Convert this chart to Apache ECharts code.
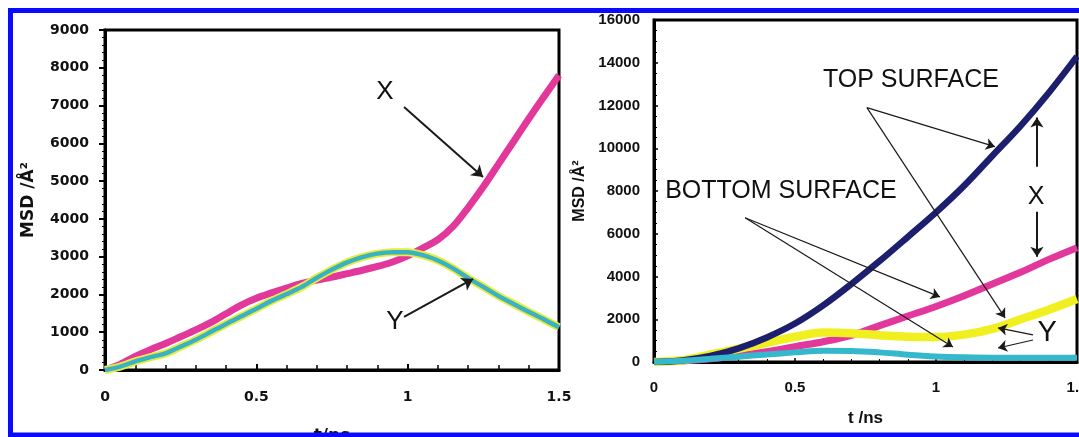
<!DOCTYPE html>
<html><head><meta charset="utf-8">
<script src="https://cdn.jsdelivr.net/npm/echarts/dist/echarts.min.js"></script>
<style>html,body{margin:0;padding:0;background:#fff}#c{width:1079px;height:437px}</style>
</head><body><div id="c"></div>
<script>
// ---- data ----
const tLeft = [0,0.05,0.1,0.15,0.2,0.25,0.3,0.35,0.4,0.45,0.5,0.55,0.6,0.65,0.7,0.75,0.8,0.85,0.9,0.95,1.0,1.05,1.1,1.15,1.2,1.25,1.3,1.35,1.4,1.45,1.5];
const leftX = [0,150,360,540,700,880,1060,1260,1490,1720,1900,2040,2170,2290,2380,2460,2550,2640,2740,2860,3020,3230,3450,3800,4300,4850,5450,6050,6650,7230,7800];
const leftY = [0,90,230,340,440,620,800,1010,1220,1420,1620,1830,2010,2200,2440,2660,2850,2990,3080,3120,3120,3040,2900,2690,2430,2200,1960,1750,1540,1340,1130];

const tRight = [0,0.1,0.2,0.3,0.4,0.5,0.6,0.7,0.8,0.9,1.0,1.1,1.2,1.3,1.4,1.5];
const topX = [0,70,280,640,1150,1800,2650,3650,4720,5850,7000,8250,9650,11050,12600,14300];
const topY = [0,80,350,620,900,1180,1380,1350,1250,1180,1170,1280,1550,2000,2450,2950];
const botX = [0,50,150,300,480,720,950,1250,1700,2150,2600,3100,3650,4200,4800,5350];
const botY = [0,60,150,250,350,450,530,520,450,340,260,220,200,200,200,200];

const leftYTicks = {min:0, max:9000, step:1000};
const rightYTicks = {min:0, max:16000, step:2000};
const xTicks = {min:0, max:1.5, step:0.5};

const pairs = (ts, vs) => ts.map((t, i) => [t, vs[i]]);

const chart = echarts.init(document.getElementById('c'), null, {renderer:'canvas'});

const leftFont = 'DejaVu Sans';
const rightFont = 'Liberation Sans';
const annFont = 'Liberation Sans';
const plain = v => String(v);

function arrow(a, b) { return [{coord:a}, {coord:b}]; }
function txt(c, s, size) {
  return {coord:c, value:s, label:{formatter:s, fontSize:size}};
}
function arrows(list, width, head) {
  return {silent:true, symbol:['none','arrow'], symbolSize:head, label:{show:false},
          lineStyle:{color:'#1a1a1a', width:width, type:'solid'}, emphasis:{disabled:true},
          data:list};
}
function texts(list) {
  return {symbol:'rect', symbolSize:0, silent:true, itemStyle:{color:'transparent'},
          label:{show:true, position:'inside', color:'#111', fontFamily:annFont},
          data:list};
}

const option = {
  animation: false,
  backgroundColor: '#fff',
  grid: [
    {left:105, top:30, width:454, height:340, show:true, borderColor:'#000', borderWidth:3, backgroundColor:'transparent',
     containLabel:false, outerBoundsMode:'none'},
    {left:654, top:20, width:423, height:342, show:true, borderColor:'#000', borderWidth:3, backgroundColor:'transparent',
     containLabel:false, outerBoundsMode:'none'}
  ],
  xAxis: [
    {type:'value', gridIndex:0, min:xTicks.min, max:xTicks.max, interval:xTicks.step,
     name:'t/ns', nameLocation:'middle', nameGap:58,
     nameTextStyle:{fontFamily:leftFont, fontWeight:'bold', fontSize:17, color:'#111'},
     axisLine:{lineStyle:{color:'#000', width:3}},
     axisTick:{show:true, inside:true, length:6, lineStyle:{color:'#000', width:2}},
     minorTick:{show:true, splitNumber:5, length:5, lineStyle:{color:'#000', width:1.5}},
     splitLine:{show:false},
     axisLabel:{fontFamily:leftFont, fontWeight:'bold', fontSize:14, color:'#111', margin:20, formatter:plain}},
    {type:'value', gridIndex:1, min:xTicks.min, max:xTicks.max, interval:xTicks.step,
     name:'t /ns', nameLocation:'middle', nameGap:48,
     nameTextStyle:{fontFamily:rightFont, fontWeight:'bold', fontSize:17, color:'#111'},
     axisLine:{lineStyle:{color:'#000', width:3}},
     axisTick:{show:true, inside:true, length:4, lineStyle:{color:'#000', width:1.5}},
     minorTick:{show:true, splitNumber:5, length:3, lineStyle:{color:'#000', width:1}},
     splitLine:{show:false},
     axisLabel:{fontFamily:rightFont, fontWeight:'bold', fontSize:15, color:'#111', margin:18, formatter:plain}}
  ],
  yAxis: [
    {type:'value', gridIndex:0, min:leftYTicks.min, max:leftYTicks.max, interval:leftYTicks.step,
     name:'MSD /Å²', nameLocation:'middle', nameGap:68, nameRotate:90,
     nameTextStyle:{fontFamily:leftFont, fontWeight:'bold', fontSize:17, color:'#111'},
     axisLine:{lineStyle:{color:'#000', width:3}},
     axisTick:{show:true, inside:false, length:6, lineStyle:{color:'#000', width:2}},
     minorTick:{show:true, splitNumber:5, length:3, lineStyle:{color:'#000', width:1}},
     splitLine:{show:false},
     axisLabel:{fontFamily:leftFont, fontWeight:'bold', fontSize:14, color:'#111', margin:16, formatter:plain}},
    {type:'value', gridIndex:1, min:rightYTicks.min, max:rightYTicks.max, interval:rightYTicks.step,
     name:'MSD /Å²', nameLocation:'middle', nameGap:66, nameRotate:90,
     nameTextStyle:{fontFamily:rightFont, fontWeight:'bold', fontSize:16, color:'#111'},
     axisLine:{lineStyle:{color:'#000', width:3}},
     axisTick:{show:true, inside:true, length:4, lineStyle:{color:'#000', width:1.5}},
     minorTick:{show:true, splitNumber:4, length:3, lineStyle:{color:'#000', width:1}},
     splitLine:{show:false},
     axisLabel:{fontFamily:rightFont, fontWeight:'bold', fontSize:15, color:'#111', margin:14, formatter:plain}}
  ],
  series: [
    {name:'X', type:'line', xAxisIndex:0, yAxisIndex:0, data:pairs(tLeft, leftX), smooth:0.3, showSymbol:false, z:2,
     lineStyle:{color:'#e2389c', width:7},
     markLine:arrows([arrow([0.988,6962],[1.249,5109])], 2, 11),
     markPoint:texts([txt([0.925,7359],'X',26)])},
    {name:'Y outline', type:'line', xAxisIndex:0, yAxisIndex:0, data:pairs(tLeft, leftY), smooth:0.3, showSymbol:false, z:3,
     lineStyle:{color:'#e6ec3a', width:8}},
    {name:'Y', type:'line', xAxisIndex:0, yAxisIndex:0, data:pairs(tLeft, leftY), smooth:0.3, showSymbol:false, z:4,
     lineStyle:{color:'#38b2c4', width:4.5},
     markLine:arrows([arrow([0.988,1403],[1.216,2409])], 2, 11),
     markPoint:texts([txt([0.958,1271],'Y',26)])},

    {name:'Bottom X', type:'line', xAxisIndex:1, yAxisIndex:1, data:pairs(tRight, botX), smooth:0.35, showSymbol:false, z:2,
     lineStyle:{color:'#e2389c', width:7}},
    {name:'Top Y', type:'line', xAxisIndex:1, yAxisIndex:1, data:pairs(tRight, topY), smooth:0.35, showSymbol:false, z:3,
     lineStyle:{color:'#f0f020', width:8.5}},
    {name:'Top X', type:'line', xAxisIndex:1, yAxisIndex:1, data:pairs(tRight, topX), smooth:0.35, showSymbol:false, z:4,
     lineStyle:{color:'#1c1f6e', width:6.5},
     markLine:arrows([
         arrow([1.358,9138],[1.358,11434]),
         arrow([1.358,7029],[1.358,4920])
       ], 2, 10)},
    {name:'Bottom Y', type:'line', xAxisIndex:1, yAxisIndex:1, data:pairs(tRight, botY), smooth:0.35, showSymbol:false, z:5,
     lineStyle:{color:'#35b8cc', width:6},
     markLine:arrows([
         arrow([0.755,11903],[1.209,10075]),
         arrow([0.755,11903],[1.245,2062]),
         arrow([0.323,6748],[1.014,3046]),
         arrow([0.323,6748],[1.060,703]),
         arrow([1.344,1265],[1.220,1593]),
         arrow([1.344,1031],[1.220,656])
       ], 1.2, 9),
     markPoint:texts([
         txt([0.911,13168],'TOP SURFACE',25),
         txt([0.450,8013],'BOTTOM SURFACE',25),
         txt([1.355,7732],'X',25),
         txt([1.394,1359],'Y',29)
       ])}
  ],
  graphic: [
    {type:'rect', z:100, silent:true, shape:{x:10.5, y:10.5, width:1200, height:424.5},
     style:{fill:'none', stroke:'#0a0aff', lineWidth:5}}
  ]
};
chart.setOption(option);
</script>
</body></html>
